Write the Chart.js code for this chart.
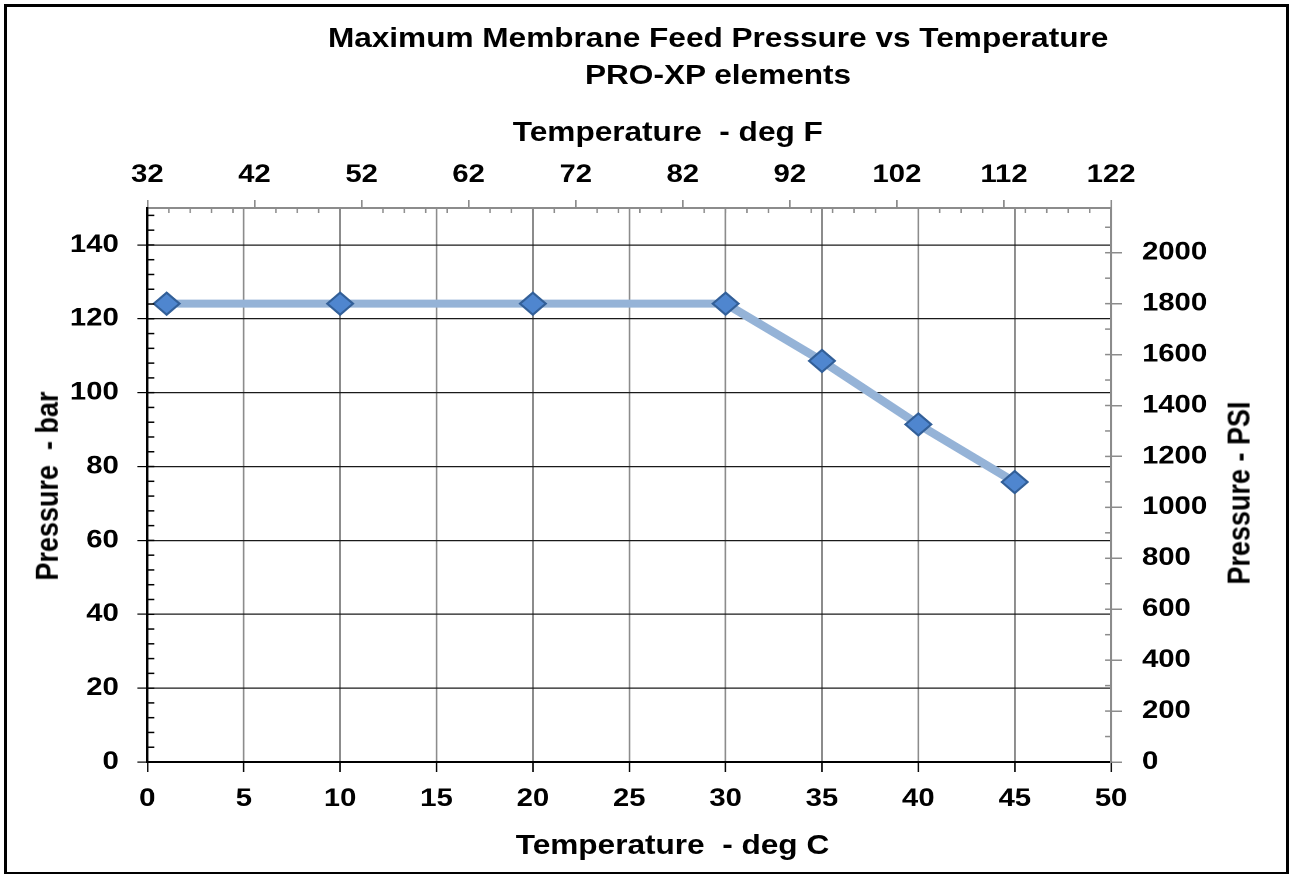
<!DOCTYPE html>
<html>
<head>
<meta charset="utf-8">
<script src="https://cdn.jsdelivr.net/npm/chart.js@4/dist/chart.umd.min.js"></script>
<style>
  html, body { margin: 0; padding: 0; background: #fff; }
  #wrap { position: relative; width: 1290px; height: 874px; overflow: hidden; }
  /* the reference is a horizontally stretched Excel chart, so draw narrow and stretch */
  #stretch { position: absolute; left: 0; top: 0; width: 1103px; height: 874px;
             transform: scaleX(1.169538); transform-origin: 0 0;
             font-family: "Liberation Sans", Arial, sans-serif; font-weight: bold; color: #000; }
  #chart { position: absolute; left: 0; top: 0; }
  .frame { position: absolute; left: 4px; top: 4px; width: 1285px; height: 870px; box-sizing: border-box;
           border-left: 3px solid #000; border-top: 3px solid #000; border-right: 3px solid #000; border-bottom: 2px solid #000; pointer-events: none; }
  .txt { position: absolute; transform: translate(-50%, -50%); white-space: pre; font-size: 27px; line-height: 1; }
  .rot { transform: translate(-50%, -50%) rotate(-90deg); }
</style>
</head>
<body>
<div id="wrap">
  <div id="stretch">
    <canvas id="chart" width="1103" height="874"></canvas>
    <div class="txt" style="left:614px; top:38px;">Maximum Membrane Feed Pressure vs Temperature</div>
    <div class="txt" style="left:614px; top:75px;">PRO-XP elements</div>
    <div class="txt" style="left:571px; top:132px;">Temperature  - deg F</div>
    <div class="txt" style="left:575px; top:845px;">Temperature  - deg C</div>
    <div class="txt rot" style="left:41px; top:486px;">Pressure  - bar</div>
    <div class="txt rot" style="left:1060px; top:493px;">Pressure - PSI</div>
  </div>
  <div class="frame"></div>
</div>
<script>
// data
const tempC = [1, 10, 20, 30, 35, 40, 45];
const pressureBar = [124.1, 124.1, 124.1, 124.1, 108.6, 91.4, 75.8];

// tick labels
const cTicks = [0, 5, 10, 15, 20, 25, 30, 35, 40, 45, 50];
const fTicks = [32, 42, 52, 62, 72, 82, 92, 102, 112, 122];
const barTicks = [0, 20, 40, 60, 80, 100, 120, 140];
const psiTicks = [0, 200, 400, 600, 800, 1000, 1200, 1400, 1600, 1800, 2000];

// axis ranges
const cMin = 0, cMax = 50;
const fMin = 32, fMax = 122;
const barMax = 150;
const psiMax = 2175.6;   // 150 bar in psi

const tickFont = { family: "'Liberation Sans', Arial, sans-serif", size: 25, weight: "bold" };
const gridGray = "#8c8c8c";

const useTicks = list => sc => { sc.ticks = list.map(v => ({ value: v })); };

// inward minor ticks, drawn from the scales
const minorTicks = {
  id: "minorTicks",
  afterDraw(chart) {
    const ctx = chart.ctx;
    const s = chart.scales;
    ctx.save();

    ctx.lineWidth = 1.3;
    ctx.strokeStyle = gridGray;
    for (let v = fMin + 2; v < fMax; v += 2) {
      if ((v - fMin) % 10 === 0) continue;
      const x = s.xF.getPixelForValue(v);
      ctx.beginPath(); ctx.moveTo(x, s.xF.bottom); ctx.lineTo(x, s.xF.bottom + 5); ctx.stroke();
    }

    ctx.lineWidth = 1.5;
    ctx.strokeStyle = "#000";
    for (let v = 4; v < barMax; v += 4) {
      const y = s.y.getPixelForValue(v);
      ctx.beginPath(); ctx.moveTo(s.y.right, y); ctx.lineTo(s.y.right + 6, y); ctx.stroke();
    }

    ctx.strokeStyle = gridGray;
    for (let v = 100; v < psiMax; v += 100) {
      const y = s.yR.getPixelForValue(v);
      ctx.beginPath(); ctx.moveTo(s.yR.left, y); ctx.lineTo(s.yR.left - 5, y); ctx.stroke();
    }
    ctx.restore();
  }
};

new Chart(document.getElementById("chart"), {
  type: "line",
  data: {
    datasets: [{
      data: tempC.map((t, i) => ({ x: t, y: pressureBar[i] })),
      borderColor: "#95b3d7",
      borderWidth: 8,
      pointStyle: "rectRot",
      pointRadius: 11,
      pointBackgroundColor: "#4f86cf",
      pointBorderColor: "#325f98",
      pointBorderWidth: 2,
      tension: 0,
      clip: false,
    }],
  },
  options: {
    responsive: false,
    animation: false,
    devicePixelRatio: 2,
    layout: { padding: 0 },
    plugins: { legend: { display: false }, tooltip: { enabled: false }, title: { display: false } },
    scales: {
      x: {
        type: "linear", position: "bottom", min: cMin, max: cMax,
        afterBuildTicks: useTicks(cTicks),
        afterFit: sc => { sc.height = 112; },
        ticks: { color: "#000", font: tickFont, padding: 12, maxRotation: 0 },
        grid: { color: gridGray, lineWidth: 1.5, tickColor: "#000", tickLength: 10, tickWidth: 1.3 },
        border: { color: "#000", width: 2 },
      },
      xF: {
        type: "linear", position: "top", min: fMin, max: fMax,
        afterBuildTicks: useTicks(fTicks),
        afterFit: sc => { sc.height = 208; },
        ticks: { color: "#000", font: tickFont, padding: 10, maxRotation: 0 },
        grid: { drawOnChartArea: false, color: gridGray, tickLength: 8, lineWidth: 1.5 },
        border: { color: gridGray, width: 2 },
      },
      y: {
        type: "linear", position: "left", min: 0, max: barMax,
        afterBuildTicks: useTicks(barTicks),
        afterFit: sc => { sc.width = 126; },
        ticks: { color: "#000", font: tickFont, padding: 16 },
        grid: { color: "#1a1a1a", lineWidth: 1.2, tickColor: "#000", tickLength: 8.5 },
        border: { color: "#000", width: 1.8 },
      },
      yR: {
        type: "linear", position: "right", min: 0, max: psiMax,
        afterBuildTicks: useTicks(psiTicks),
        afterFit: sc => { sc.width = 153; },
        ticks: { color: "#000", font: tickFont, padding: 17, callback: v => String(v) },
        grid: { drawOnChartArea: false, color: gridGray, tickLength: 9.5, lineWidth: 1.5 },
        border: { color: gridGray, width: 1.8 },
      },
    },
  },
  plugins: [minorTicks],
});
</script>
</body>
</html>
